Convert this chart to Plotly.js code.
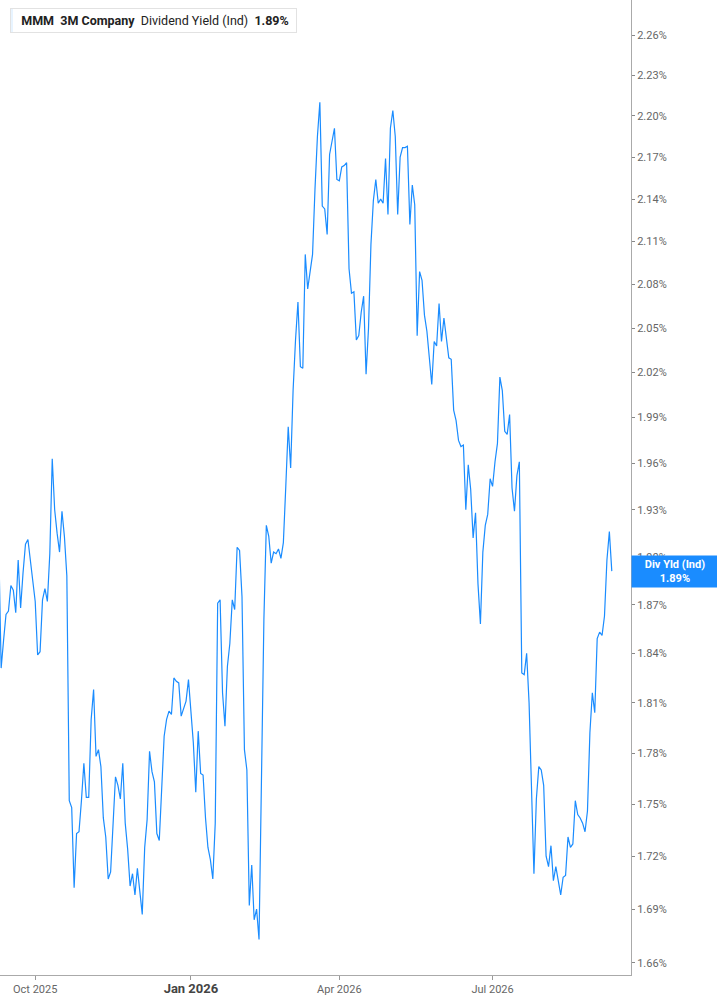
<!DOCTYPE html>
<html>
<head>
<meta charset="utf-8">
<script src="https://cdn.plot.ly/plotly-3.0.1.min.js"></script>
<style>
  html, body { margin: 0; padding: 0; background: #fff; }
  #chart { width: 717px; height: 1005px; }
</style>
</head>
<body>
<div id="chart"></div>
<script>
// MMM dividend yield (indicated), one value per trading day
var divYield = [1.908,
  1.831,1.848,1.864,1.866,1.882,1.879,1.865,1.898,1.868,1.890,
  1.908,1.911,1.898,1.883,1.872,1.839,1.841,1.873,1.880,1.872,
  1.902,1.963,1.930,1.915,1.903,1.929,1.913,1.888,1.752,1.748,
  1.702,1.733,1.734,1.752,1.774,1.754,1.754,1.800,1.818,1.778,
  1.782,1.772,1.742,1.731,1.707,1.711,1.735,1.766,1.761,1.753,
  1.774,1.739,1.724,1.703,1.710,1.698,1.713,1.701,1.687,1.725,
  1.741,1.781,1.769,1.763,1.733,1.729,1.762,1.790,1.800,1.805,
  1.803,1.825,1.823,1.822,1.802,1.806,1.811,1.824,1.806,1.786,
  1.757,1.793,1.768,1.767,1.742,1.725,1.718,1.707,1.739,1.871,
  1.873,1.816,1.796,1.832,1.846,1.873,1.867,1.906,1.904,1.875,
  1.782,1.770,1.692,1.715,1.684,1.690,1.673,1.764,1.861,1.920,
  1.913,1.896,1.903,1.902,1.905,1.899,1.909,1.945,1.984,1.957,
  2.008,2.042,2.068,2.024,2.023,2.101,2.077,2.089,2.101,2.147,
  2.185,2.210,2.135,2.133,2.115,2.172,2.182,2.191,2.154,2.153,
  2.163,2.164,2.166,2.091,2.074,2.075,2.042,2.045,2.061,2.072,
  2.019,2.050,2.108,2.139,2.154,2.137,2.140,2.137,2.169,2.129,
  2.191,2.204,2.185,2.129,2.170,2.177,2.177,2.178,2.122,2.150,
  2.136,2.045,2.089,2.083,2.059,2.048,2.030,2.012,2.041,2.038,
  2.067,2.041,2.057,2.043,2.030,2.029,1.995,1.988,1.975,1.971,
  1.972,1.930,1.959,1.943,1.912,1.928,1.883,1.858,1.903,1.920,
  1.927,1.950,1.945,1.961,1.973,2.017,2.008,1.981,1.979,1.992,
  1.944,1.929,1.952,1.961,1.828,1.827,1.840,1.810,1.754,1.710,
  1.753,1.772,1.770,1.761,1.720,1.714,1.726,1.706,1.714,1.705,
  1.698,1.708,1.709,1.731,1.725,1.727,1.752,1.744,1.742,1.739,
  1.734,1.746,1.792,1.816,1.804,1.849,1.853,1.851,1.863,1.898,
  1.916,1.891];

// market holidays in the window (no trading)
var holidays = ['2025-11-27','2025-12-25','2026-01-01','2026-01-19','2026-02-16',
                '2026-05-25','2026-06-19','2026-07-03','2026-09-07'];
var firstDay = '2025-09-10';

var yTicks = [1.66,1.69,1.72,1.75,1.78,1.81,1.84,1.87,1.90,1.93,1.96,1.99,
              2.02,2.05,2.08,2.11,2.14,2.17,2.20,2.23,2.26];
var xTicks = ['2025-10-01','2026-01-02','2026-04-01','2026-07-01'];
var xTickText = ['Oct 2025','<span style="font-size:13px;color:#444"><b>Jan 2026</b></span>','Apr 2026','Jul 2026'];

// trading calendar: weekdays that are not holidays
var dates = [];
var d = new Date(firstDay + 'T00:00:00Z');
while (dates.length < divYield.length) {
  var iso = d.toISOString().slice(0, 10);
  var wd = d.getUTCDay();
  if (wd !== 0 && wd !== 6 && holidays.indexOf(iso) < 0) dates.push(iso);
  d.setUTCDate(d.getUTCDate() + 1);
}

var last = divYield[divYield.length - 1];
var blue = '#1a8cff';
var sp = '\u00a0\u00a0';

var data = [{
  x: dates,
  y: divYield,
  type: 'scatter',
  mode: 'lines',
  line: {color: blue, width: 1.2},
  hoverinfo: 'x+y'
}];

var layout = {
  width: 717,
  height: 1005,
  margin: {l: 0, r: 86, t: 0, b: 30},
  paper_bgcolor: '#fff',
  plot_bgcolor: '#fff',
  showlegend: false,
  font: {family: 'Roboto, sans-serif', size: 11, color: '#666'},
  xaxis: {
    type: 'date',
    range: ['2025-09-10 12:40', '2026-09-21 21:30'],
    rangebreaks: [{bounds: ['sat', 'mon']}, {values: holidays}],
    tickmode: 'array',
    tickvals: xTicks,
    ticktext: xTickText,
    ticks: 'outside',
    ticklen: 4,
    tickcolor: '#999',
    showline: true,
    linecolor: '#aaa',
    linewidth: 1,
    showgrid: false,
    zeroline: false,
    tickfont: {size: 11, color: '#666'}
  },
  yaxis: {
    type: 'log',
    side: 'right',
    range: [0.218368, 0.359162],
    tickmode: 'array',
    tickvals: yTicks,
    ticktext: yTicks.map(function (v) { return v.toFixed(2) + '%'; }),
    ticks: 'outside',
    ticklen: 3,
    tickcolor: '#888',
    showline: true,
    linecolor: '#aaa',
    linewidth: 1,
    showgrid: false,
    zeroline: false,
    tickfont: {size: 11, color: '#666'}
  },
  shapes: [{
    type: 'rect', xref: 'paper', yref: 'paper',
    x0: 10 / 631, x1: 13 / 631, y0: 1 - 33 / 975, y1: 1 - 8 / 975,
    fillcolor: blue, line: {width: 0}
  }],
  annotations: [{
    xref: 'paper', yref: 'paper',
    x: 10 / 631, y: 1 - 8 / 975,
    xanchor: 'left', yanchor: 'top',
    showarrow: false,
    text: sp + '<b>MMM</b>' + sp + '<b>3M Company</b>' + sp + 'Dividend Yield (Ind)' + sp + '<b>1.89%</b>' + '\u00a0',
    font: {family: 'Roboto, sans-serif', size: 12.5, color: '#222'},
    bgcolor: 'rgba(255,255,255,0.9)',
    bordercolor: '#e2e2e2',
    borderwidth: 1,
    borderpad: 4
  }, {
    xref: 'paper', yref: 'y',
    x: 1, y: Math.log10(last),
    xanchor: 'left', yanchor: 'middle',
    showarrow: false,
    text: '<b>Div Yld (Ind)</b><br><b>' + last.toFixed(2) + '%</b>',
    font: {family: 'Roboto, sans-serif', size: 11, color: '#fff'},
    align: 'center',
    width: 82,
    bgcolor: blue,
    borderpad: 2
  }]
};

Plotly.newPlot('chart', data, layout, {displayModeBar: false, staticPlot: true});
</script>
</body>
</html>
